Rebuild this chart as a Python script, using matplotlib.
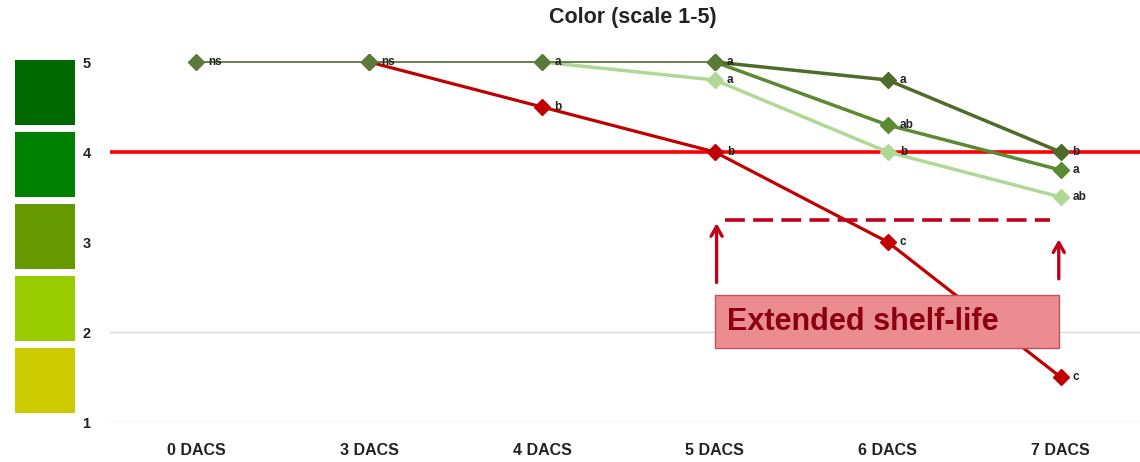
import matplotlib

matplotlib.use("Agg")
import matplotlib.pyplot as plt
from matplotlib.patches import Rectangle

plt.rcParams["font.family"] = ["Liberation Sans", "DejaVu Sans"]

CATEGORIES = ["0 DACS", "3 DACS", "4 DACS", "5 DACS", "6 DACS", "7 DACS"]

# series: category index -> colour score, with significance letters
CTRL_X = [0, 1, 2, 3]
CTRL_Y = [5.0, 5.0, 5.0, 5.0]
CTRL_LBL = ["ns", "ns", "a", "a"]

DARK_X = [3, 4, 5]
DARK_Y = [5.0, 4.8, 4.0]
DARK_LBL = [None, "a", "b"]

MID_X = [3, 4, 5]
MID_Y = [5.0, 4.3, 3.8]
MID_LBL = [None, "ab", "a"]

LIGHT_X = [2, 3, 4, 5]
LIGHT_Y = [5.0, 4.8, 4.0, 3.5]
LIGHT_LBL = [None, "a", "b", "ab"]

RED_X = [1, 2, 3, 4, 5]
RED_Y = [5.0, 4.5, 4.0, 3.0, 1.5]
RED_LBL = [None, "b", "b", "c", "c"]

THRESHOLD = 4.0
SCALE_COLORS = ["#006a00", "#008000", "#669900", "#99cc00", "#cccc00"]

W, H = 1140, 462
fig = plt.figure(figsize=(W / 100, H / 100), dpi=100)
ax = fig.add_axes([110 / W, 40 / H, 1030 / W, 396 / H])

# colour scale swatches on the left
tops = [60, 132, 204, 276, 348]
for top, col in zip(tops, SCALE_COLORS):
    fig.patches.append(
        Rectangle((15 / W, 1 - (top + 65) / H), 60 / W, 65 / H,
                  transform=fig.transFigure, facecolor=col, edgecolor="none")
    )

for yv in (1, 2):
    ax.axhline(yv, color="#d9d9d9", linewidth=1.0, zorder=0)

ax.axhline(THRESHOLD, color="#ff0000", linewidth=2.6, zorder=1)


def series(xs, ys, lbls, color, lw, z):
    ax.plot(xs, ys, color=color, linewidth=lw, marker="D", markersize=8.5,
            zorder=z)
    for x, y, t in zip(xs, ys, lbls):
        if t:
            ax.text(x + 0.07, y, t, fontsize=8.5, fontweight="bold",
                    color="#222222", va="center", ha="left", zorder=z + 0.5)


series(RED_X, RED_Y, RED_LBL, "#c00000", 2.3, 2)
series(LIGHT_X, LIGHT_Y, LIGHT_LBL, "#b0d894", 2.5, 3)
series(MID_X, MID_Y, MID_LBL, "#5c8a32", 2.5, 4)
series(DARK_X, DARK_Y, DARK_LBL, "#4e6b2a", 2.5, 5)
series(CTRL_X, CTRL_Y, CTRL_LBL, "#5b7a3a", 1.3, 6)

# extended shelf-life annotation
ax.plot([3.06, 4.94], [3.245, 3.245], color="#c0001a", linewidth=2.6,
        linestyle=(0, (5.5, 2.3)), zorder=7)
ax.annotate("", xy=(3.01, 3.24), xytext=(3.01, 2.52),
            arrowprops=dict(arrowstyle="->,head_length=0.7,head_width=0.4",
                            color="#c0001a", lw=2.4), zorder=7)
ax.annotate("", xy=(4.99, 3.06), xytext=(4.99, 2.56),
            arrowprops=dict(arrowstyle="->,head_length=0.7,head_width=0.4",
                            color="#c0001a", lw=2.4), zorder=7)
ax.add_patch(Rectangle((3.0, 1.82), 1.99, 0.59, facecolor="#eb8c90",
                       edgecolor="#c8505a", linewidth=1.0, zorder=8))
ax.text(3.07, 2.11, "Extended shelf-life", fontsize=22, fontweight="bold",
        color="#8b0010", va="center", ha="left", zorder=9)

ax.set_xlim(-0.5, 5.46)
ax.set_ylim(1, 5.4)
ax.set_xticks(range(len(CATEGORIES)))
ax.set_xticklabels(CATEGORIES, fontsize=11.5, fontweight="bold", color="#222222")
ax.set_yticks([1, 2, 3, 4, 5])
ax.set_yticklabels(["1", "2", "3", "4", "5"], fontsize=10.5, fontweight="bold",
                   color="#222222")
ax.tick_params(axis="x", length=0, pad=15)
ax.tick_params(axis="y", length=0, pad=14)
for sp in ax.spines.values():
    sp.set_visible(False)

fig.text(633 / W, 1 - 18 / H, "Color (scale 1-5)", fontsize=15.5,
         fontweight="bold", color="#222222", ha="center", va="center")

fig.savefig("out.png", dpi=100)
